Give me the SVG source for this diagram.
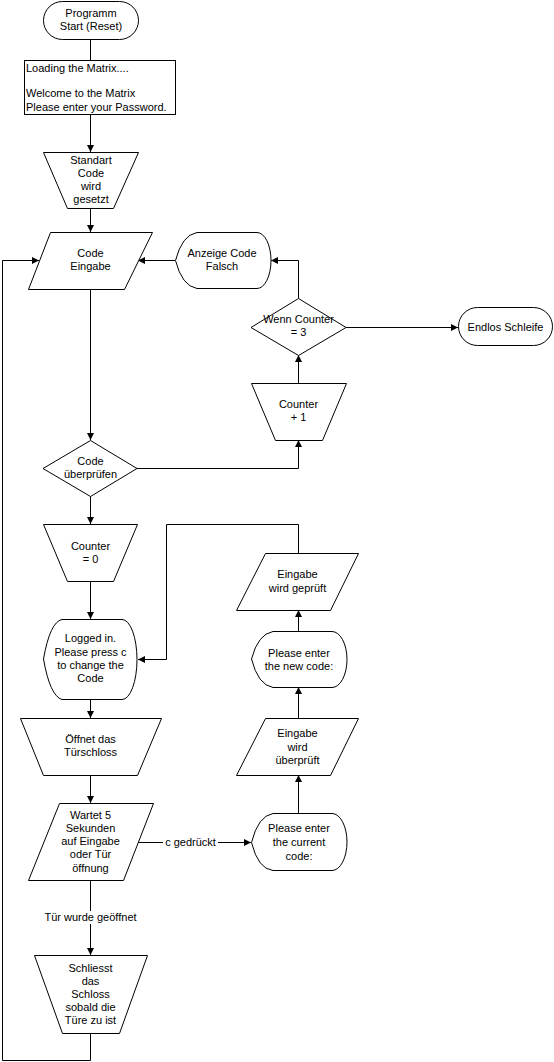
<svg xmlns="http://www.w3.org/2000/svg" width="554" height="1062" viewBox="0 0 554 1062">
<style>
.s{fill:#fff;stroke:#000;stroke-width:1}
.c{fill:none;stroke:#000;stroke-width:1}
text{font-family:"Liberation Sans",Arial,sans-serif;font-size:11px;fill:#000}
.m{text-anchor:middle}
</style>
<defs>
<marker id="a" markerUnits="userSpaceOnUse" markerWidth="8" markerHeight="8" refX="7" refY="3.5" orient="auto">
<path d="M0,0 L7,3.5 L0,7 Z" fill="#000"/>
</marker>
</defs>
<rect width="554" height="1062" fill="#fff"/>
<g id="connectors">
<path class="c" d="M90.5,39 V60"/>
<path class="c" d="M90.5,114 V152" marker-end="url(#a)"/>
<path class="c" d="M90.5,208 V232" marker-end="url(#a)"/>
<path class="c" d="M90.5,289 V440" marker-end="url(#a)"/>
<path class="c" d="M137,468.5 H298.5 V440" marker-end="url(#a)"/>
<path class="c" d="M298.5,383 V355" marker-end="url(#a)"/>
<path class="c" d="M298.5,298 V260.5 H271" marker-end="url(#a)"/>
<path class="c" d="M175,260.5 H138" marker-end="url(#a)"/>
<path class="c" d="M346,327.5 H458" marker-end="url(#a)"/>
<path class="c" d="M90.5,496 V524" marker-end="url(#a)"/>
<path class="c" d="M90.5,581 V619" marker-end="url(#a)"/>
<path class="c" d="M90.5,699 V718" marker-end="url(#a)"/>
<path class="c" d="M90.5,775 V803" marker-end="url(#a)"/>
<path class="c" d="M90.5,880 V955" marker-end="url(#a)"/>
<path class="c" d="M90.5,1033 V1060.5 H2.5 V260.5 H39" marker-end="url(#a)"/>
<path class="c" d="M138,842.5 H251" marker-end="url(#a)"/>
<path class="c" d="M298.5,813 V775" marker-end="url(#a)"/>
<path class="c" d="M298.5,718 V687" marker-end="url(#a)"/>
<path class="c" d="M298.5,631 V610" marker-end="url(#a)"/>
<path class="c" d="M298.5,553 V524.5 H166.5 V659.5 H138" marker-end="url(#a)"/>
<rect x="163" y="836" width="55" height="13" fill="#fff"/>
<text class="m" x="190.5" y="846">c gedrückt</text>
<rect x="44" y="911" width="93" height="13" fill="#fff"/>
<text class="m" x="90.5" y="921">Tür wurde geöffnet</text>
</g>
<g id="start">
<rect class="s" x="43.5" y="1.5" width="95" height="38" rx="19" ry="19"/>
<text class="m" x="91" y="17">Programm</text>
<text class="m" x="91" y="30">Start (Reset)</text>
</g>
<g id="loading">
<rect class="s" x="24.5" y="60.5" width="151" height="54"/>
<text x="26" y="72">Loading the Matrix....</text>
<text x="26" y="97">Welcome to the Matrix</text>
<text x="26" y="111">Please enter your Password.</text>
</g>
<g id="standart">
<path class="s" d="M43.5,152.5 H138.5 L113.5,208.5 H67.5 Z"/>
<text class="m" x="91" y="164">Standart</text>
<text class="m" x="91" y="177">Code</text>
<text class="m" x="91" y="190">wird</text>
<text class="m" x="91" y="203">gesetzt</text>
</g>
<g id="code-eingabe">
<path class="s" d="M50.5,232.5 H152.5 L124.5,289.5 H28.5 Z"/>
<text class="m" x="90.5" y="257">Code</text>
<text class="m" x="90.5" y="270">Eingabe</text>
</g>
<g id="anzeige">
<path class="s" d="M175.5,260.5 Q182,235 197,232.5 H257 A14,28 0 0 1 257,288.5 H197 Q182,286 175.5,260.5 Z"/>
<text class="m" x="222" y="257">Anzeige Code</text>
<text class="m" x="222" y="270">Falsch</text>
</g>
<g id="wenn">
<path class="s" d="M251,327.5 L298.5,298.5 L346,327.5 L298.5,355.5 Z"/>
<text class="m" x="298.5" y="323">Wenn Counter</text>
<text class="m" x="298.5" y="336">= 3</text>
</g>
<g id="endlos">
<rect class="s" x="458.5" y="307.5" width="94" height="38" rx="19" ry="19"/>
<text class="m" x="505.5" y="331">Endlos Schleife</text>
</g>
<g id="counter-plus">
<path class="s" d="M251.5,383.5 H346.5 L322.5,440.5 H275.5 Z"/>
<text class="m" x="298.5" y="408">Counter</text>
<text class="m" x="298.5" y="421">+ 1</text>
</g>
<g id="code-pruefen">
<path class="s" d="M43,468.5 L90.5,440.5 L137,468.5 L90.5,496.5 Z"/>
<text class="m" x="90.5" y="465">Code</text>
<text class="m" x="90.5" y="478">überprüfen</text>
</g>
<g id="counter-null">
<path class="s" d="M43.5,524.5 H137.5 L113.5,581.5 H67.5 Z"/>
<text class="m" x="90.5" y="550">Counter</text>
<text class="m" x="90.5" y="563">= 0</text>
</g>
<g id="logged">
<path class="s" d="M43.5,659 Q50,622 62,619.5 H122 A15,40 0 0 1 122,699.5 H62 Q50,696 43.5,659 Z"/>
<text class="m" x="90.5" y="642">Logged in.</text>
<text class="m" x="90.5" y="656">Please press c</text>
<text class="m" x="90.5" y="669">to change the</text>
<text class="m" x="90.5" y="682">Code</text>
</g>
<g id="oeffnet">
<path class="s" d="M20.5,718.5 H161.5 L137.5,775.5 H43.5 Z"/>
<text class="m" x="90.5" y="743">Öffnet das</text>
<text class="m" x="90.5" y="756">Türschloss</text>
</g>
<g id="wartet">
<path class="s" d="M59.5,803.5 H153.5 L123.5,880.5 H28.5 Z"/>
<text class="m" x="90.5" y="819">Wartet 5</text>
<text class="m" x="90.5" y="832">Sekunden</text>
<text class="m" x="90.5" y="845">auf Eingabe</text>
<text class="m" x="90.5" y="858">oder Tür</text>
<text class="m" x="90.5" y="872">öffnung</text>
</g>
<g id="schliesst">
<path class="s" d="M34.5,955.5 H147.5 L119.5,1033.5 H62.5 Z"/>
<text class="m" x="90.5" y="972">Schliesst</text>
<text class="m" x="90.5" y="985">das</text>
<text class="m" x="90.5" y="998">Schloss</text>
<text class="m" x="90.5" y="1011">sobald die</text>
<text class="m" x="90.5" y="1024">Türe zu ist</text>
</g>
<g id="eingabe-geprueft">
<path class="s" d="M265.5,553.5 H358.5 L330.5,610.5 H236.5 Z"/>
<text class="m" x="297.5" y="578">Eingabe</text>
<text class="m" x="297.5" y="592">wird geprüft</text>
</g>
<g id="new-code">
<path class="s" d="M251.5,659 Q258,634 273,631.5 H332 A15,28 0 0 1 332,687.5 H273 Q258,685 251.5,659 Z"/>
<text class="m" x="299" y="657">Please enter</text>
<text class="m" x="299" y="670">the new code:</text>
</g>
<g id="eingabe-ueberprueft">
<path class="s" d="M265.5,718.5 H358.5 L330.5,775.5 H236.5 Z"/>
<text class="m" x="297.5" y="737">Eingabe</text>
<text class="m" x="297.5" y="751">wird</text>
<text class="m" x="297.5" y="764">überprüft</text>
</g>
<g id="current-code">
<path class="s" d="M251.5,842.5 Q258,816 273,813.5 H332 A15,28.5 0 0 1 332,870.5 H273 Q258,869 251.5,842.5 Z"/>
<text class="m" x="299" y="832">Please enter</text>
<text class="m" x="299" y="846">the current</text>
<text class="m" x="299" y="860">code:</text>
</g>
</svg>
